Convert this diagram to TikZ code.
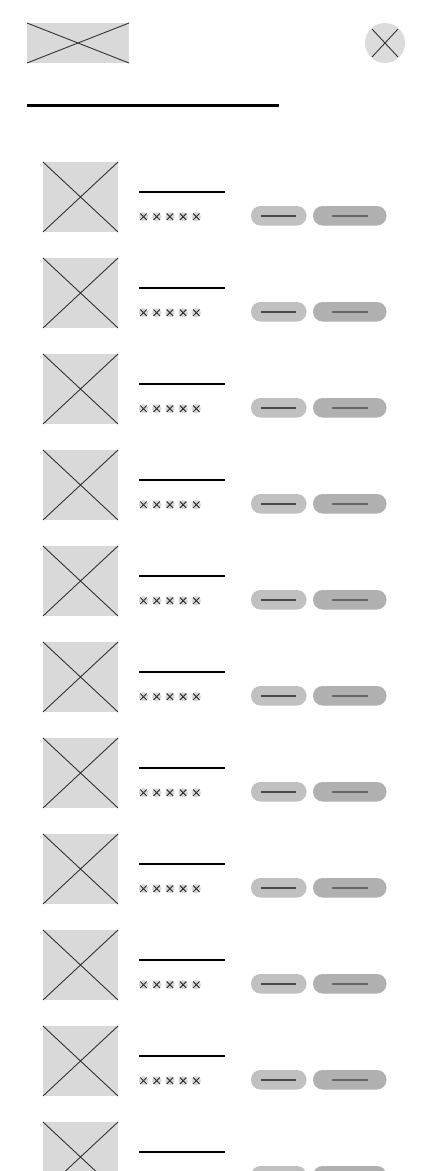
\documentclass[tikz,border=0pt]{standalone}
\usetikzlibrary{calc}
\begin{document}
\begin{tikzpicture}[x=1pt,y=-1pt,
  imgbox/.style={fill=imgfill,draw=none},
  crossline/.style={draw=crossc,line width=0.9pt},
  pillA/.style={fill=pillone,rounded corners=9.5pt},
  pillB/.style={fill=pilltwo,rounded corners=9.5pt},
  pillline/.style={draw=pilllc,line width=1.2pt},
  star/.style={circle,fill=starfill,minimum size=9.5pt,inner sep=0pt}]
\definecolor{imgfill}{HTML}{D9D9D9}
\definecolor{crossc}{HTML}{333333}
\definecolor{pillone}{HTML}{C0C0C0}
\definecolor{pilltwo}{HTML}{B0B0B0}
\definecolor{pilllc}{HTML}{4A4A4A}
\definecolor{starfill}{HTML}{DADADA}
\definecolor{closefill}{HTML}{DCDCDC}
\useasboundingbox (0,0) rectangle (430,1171);
\clip (0,0) rectangle (430,1171);
% header logo
\fill[imgbox] (27,23) rectangle (129,63);
\draw[crossline] (27,23) -- (129,63) (27,63) -- (129,23);
% close button
\fill[closefill] (385,43) circle (20);
\draw[crossline] (372,29) -- (398,57) (372,57) -- (398,29);
% header rule
\draw[line width=3pt] (27,105) -- (279,105);
% rows
\foreach \i in {0,...,10}{
  \pgfmathsetmacro{\yy}{162+96*\i}
  \fill[imgbox] (43,\yy) rectangle (118,\yy+70);
  \draw[crossline] (43,\yy) -- (118,\yy+70) (43,\yy+70) -- (118,\yy);
  \draw[line width=2pt] (139,\yy+30) -- (225,\yy+30);
  \foreach \k in {0,...,4}{
    \node[star] (s\i\k) at (143.5+13.2*\k,\yy+54.7) {};
    \draw[crossc,line width=1pt] ($(s\i\k)+(-3.2,-3.2)$) -- ($(s\i\k)+(3.2,3.2)$)
      ($(s\i\k)+(-3.2,3.2)$) -- ($(s\i\k)+(3.2,-3.2)$);
  }
  \fill[pillA] (251,\yy+44) rectangle (306.5,\yy+63.5);
  \draw[pillline] (261,\yy+54) -- (296,\yy+54);
  \fill[pillB] (313,\yy+44) rectangle (386.5,\yy+63.5);
  \draw[pillline,draw=pilllc!85!white] (332,\yy+54) -- (367.5,\yy+54);
}
\end{tikzpicture}
\end{document}
